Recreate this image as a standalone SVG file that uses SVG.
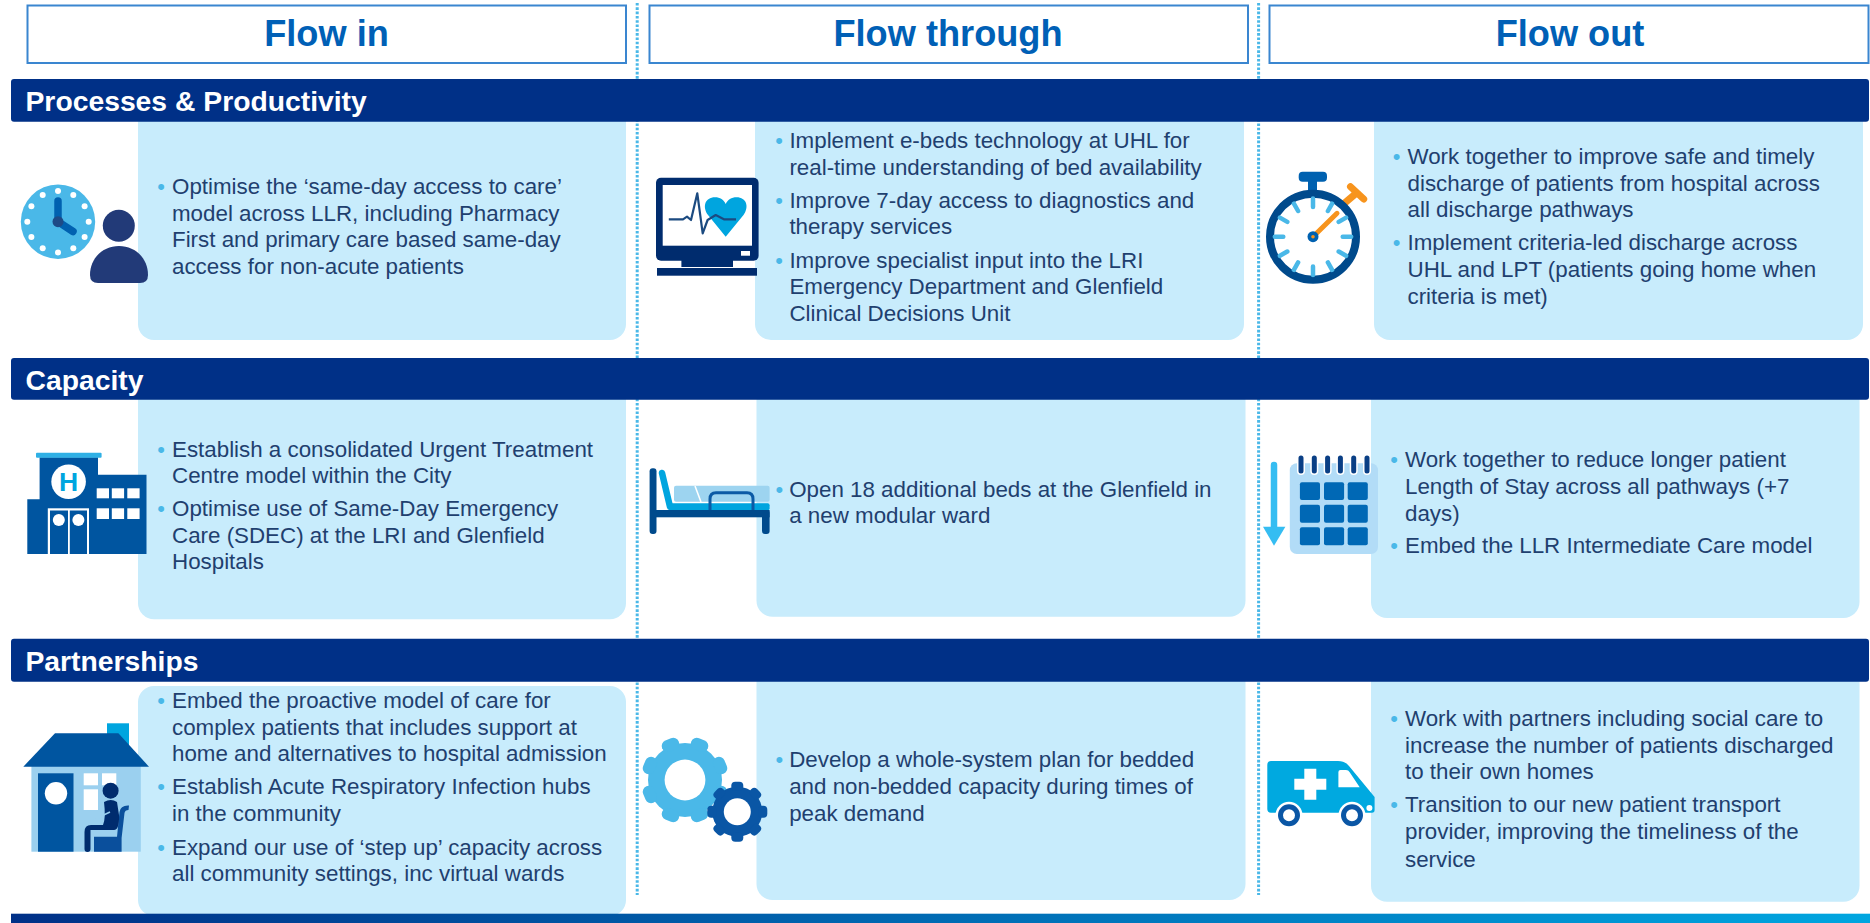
<svg xmlns="http://www.w3.org/2000/svg" width="1870" height="923" viewBox="0 0 1870 923">
<style>
text{font-family:"Liberation Sans",Arial,sans-serif}
.hd{fill:#fff;stroke:#3a86d0;stroke-width:2}
.ht{font-size:36.2px;font-weight:700;fill:#0060b6;text-anchor:middle}
.band{fill:#003087}
.bt{font-size:28.3px;font-weight:700;fill:#fff}
.card{fill:#c8ecfc}
.t{font-size:22.35px;fill:#1f406f}
.b{font-size:22px;fill:#4ab8e8;text-anchor:middle}
.div{stroke:#4ab8e8;stroke-width:3;stroke-dasharray:2.6 1.7;fill:none}
.w{fill:#fff}
</style>
<defs>
<linearGradient id="foot" x1="0" x2="1" y1="0" y2="0"><stop offset="0" stop-color="#003087"/><stop offset="1" stop-color="#00a6e0"/></linearGradient>
<rect id="toothL" x="-9" y="-44" width="18" height="12" rx="6"/>
<rect id="toothS" x="-6" y="-30" width="12" height="9" rx="4"/>
</defs>
<rect width="1870" height="923" fill="#fff"/>
<g id="connectors">
<path class="div" d="M637.2 3V895M1258.6 3V895"/>
</g>
<g id="header-flow-in"><rect class="hd" x="27.5" y="5.5" width="598.5" height="57.5"/><text class="ht" x="326.5" y="45.7">Flow in</text></g>
<g id="header-flow-through"><rect class="hd" x="649.5" y="5.5" width="598.5" height="57.5"/><text class="ht" x="948" y="45.7">Flow through</text></g>
<g id="header-flow-out"><rect class="hd" x="1269.5" y="5.5" width="599" height="57.5"/><text class="ht" x="1570" y="45.7">Flow out</text></g>

<g id="card-1a"><rect class="card" x="138" y="100" width="488" height="240" rx="16"/></g>
<g id="card-1b"><rect class="card" x="755" y="100" width="489" height="240" rx="16"/></g>
<g id="card-1c"><rect class="card" x="1374" y="100" width="489" height="240" rx="16"/></g>
<g id="card-2a"><rect class="card" x="138" y="380" width="488" height="239.300" rx="16"/></g>
<g id="card-2b"><rect class="card" x="756.500" y="380" width="489" height="236.700" rx="16"/></g>
<g id="card-2c"><rect class="card" x="1371" y="380" width="488.500" height="238" rx="16"/></g>
<g id="card-3a"><rect class="card" x="138" y="686" width="488" height="230" rx="16"/></g>
<g id="card-3b"><rect class="card" x="756.500" y="660" width="489" height="240" rx="16"/></g>
<g id="card-3c"><rect class="card" x="1371" y="660" width="488.500" height="241.700" rx="16"/></g>

<g id="band-processes"><rect class="band" x="11" y="79" width="1858" height="42.700" rx="3"/><text class="bt" x="25.500" y="111">Processes &amp; Productivity</text></g>
<g id="band-capacity"><rect class="band" x="11" y="358" width="1858" height="41.700" rx="3"/><text class="bt" x="25.500" y="390">Capacity</text></g>
<g id="band-partnerships"><rect class="band" x="11" y="638.700" width="1858" height="43" rx="3"/><text class="bt" x="25.500" y="670.700">Partnerships</text></g>
<rect id="footer-bar" x="11" y="913.700" width="1859" height="9.300" fill="url(#foot)"/>

<g id="icon-clock-person">
<circle cx="58" cy="221.700" r="37.200" fill="#4ab8e8"/>
<g class="w"><circle cx="58" cy="191" r="3"/><circle cx="73.300" cy="195.100" r="3"/><circle cx="84.600" cy="206.300" r="3"/><circle cx="88.700" cy="221.700" r="3"/><circle cx="84.600" cy="237" r="3"/><circle cx="73.300" cy="248.300" r="3"/><circle cx="58" cy="252.400" r="3"/><circle cx="42.700" cy="248.300" r="3"/><circle cx="31.400" cy="237" r="3"/><circle cx="27.300" cy="221.700" r="3"/><circle cx="31.400" cy="206.300" r="3"/><circle cx="42.700" cy="195.100" r="3"/></g>
<path d="M58 201V221.700L73 231.500" fill="none" stroke="#0061b0" stroke-width="7.500" stroke-linecap="round" stroke-linejoin="round"/>
<circle cx="58" cy="221.700" r="5.500" fill="#1e4a86"/>
<circle cx="118.800" cy="225.700" r="16" fill="#223a78"/>
<path d="M90 275C90 258 103 246 119 246C135 246 148 258 148 275Q148 283 140 283H98Q90 283 90 275Z" fill="#223a78"/>
</g>
<g id="icon-monitor">
<rect x="656" y="177.700" width="102.600" height="83" rx="5" fill="#002c6e"/>
<rect x="662.700" y="185" width="89.300" height="60.700" fill="#fff"/>
<rect x="741" y="251" width="9" height="4.700" fill="#fff"/>
<rect x="681.400" y="260" width="51.600" height="7" fill="#002c6e"/>
<rect x="657" y="268" width="100" height="7.700" fill="#002c6e"/>
<path d="M725.700 236.700L708 215C702 207 705 197.300 715 197.300C720 197.300 724 200 725.700 204C727.500 200 731.500 197.300 736.500 197.300C746.500 197.300 749.500 207 743.500 215Z" fill="#00a5df"/>
<path d="M668.800 219.300H683L687 216.700L691 220L697.300 193.300L702.700 233.300L707.600 220L715.700 215L723.900 219.300H736" fill="none" stroke="#1b4a80" stroke-width="2.200" stroke-linejoin="round"/>
</g>
<g id="icon-stopwatch">
<rect x="1298.700" y="171.700" width="28.300" height="10" rx="4" fill="#0061b0"/>
<rect x="1308" y="180" width="9" height="11" fill="#0061b0"/>
<path d="M1345 202.700L1356.500 193M1350.500 186.700L1363.700 199" stroke="#f7941d" stroke-width="7" stroke-linecap="round" fill="none"/>
<circle cx="1313" cy="236.700" r="43" fill="#fff" stroke="#004a8c" stroke-width="8"/>
<g stroke="#4ab8e8" stroke-width="4.500" stroke-linecap="round"><path d="M1313 198.500V207M1313 266.400V275M1274.800 236.700H1283.300M1342.700 236.700H1351.200M1332.100 203.600L1327.900 211M1298.100 262.400L1293.900 269.800M1346.100 217.600L1338.700 221.900M1287.300 251.500L1279.900 255.800M1346.100 255.800L1338.700 251.500M1287.300 221.900L1279.900 217.600M1332.100 269.800L1327.900 262.400M1298.100 211L1293.900 203.600"/></g>
<path d="M1313 236.700L1337 213.300" stroke="#f7941d" stroke-width="5" stroke-linecap="round"/>
<circle cx="1313" cy="236.700" r="5.500" fill="#0061b0"/>
<circle cx="1313" cy="236.700" r="1.800" fill="#f7941d"/>
</g>
<g id="icon-hospital">
<path d="M39.600 457.300H98V474.700H146.500V554H27.300V499.300H39.600Z" fill="#0055a0"/>
<rect x="36" y="452.700" width="65.600" height="5" rx="1" fill="#2fb0e5"/>
<circle cx="68.600" cy="481.700" r="17.300" fill="#fff"/>
<text x="68.600" y="491.200" font-size="26.500" font-weight="700" fill="#00a5df" text-anchor="middle">H</text>
<g class="w"><rect x="96.700" y="488.300" width="12.300" height="10"/><rect x="111.800" y="488.300" width="12.300" height="10"/><rect x="127.300" y="488.300" width="12.300" height="10"/><rect x="96.700" y="508.300" width="12.300" height="10.700"/><rect x="111.800" y="508.300" width="12.300" height="10.700"/><rect x="127.300" y="508.300" width="12.300" height="10.700"/></g>
<rect x="47.800" y="508.300" width="41.200" height="45.700" fill="#fff"/>
<rect x="50" y="510.500" width="18" height="43.500" fill="#0055a0"/><rect x="69.800" y="510.500" width="17.200" height="43.500" fill="#0055a0"/>
<circle cx="58.800" cy="520" r="6" fill="#fff"/><circle cx="78.400" cy="520" r="6" fill="#fff"/>
</g>
<g id="icon-bed">
<rect x="674" y="485.700" width="95.600" height="16" rx="2" fill="#9dd4f0"/>
<path d="M695 486L701 502" stroke="#fff" stroke-width="1.500"/>
<path d="M662 473L670 506.700" stroke="#00a5df" stroke-width="6.500" stroke-linecap="round"/>
<rect x="669" y="503.300" width="100.600" height="7" rx="2" fill="#00a5df"/>
<path d="M710 510V499Q710 492.700 716 492.700H747Q753 492.700 753 499V510" fill="none" stroke="#0b5aa5" stroke-width="3"/>
<rect x="649.600" y="468.300" width="6.900" height="65.700" rx="3" fill="#004a8c"/>
<rect x="762" y="510" width="7.600" height="24" rx="3" fill="#004a8c"/>
<rect x="650" y="510" width="119.600" height="7.300" fill="#004a8c"/>
</g>
<g id="icon-calendar">
<path d="M1274 465V527" stroke="#35bdf2" stroke-width="6.500" stroke-linecap="round"/>
<path d="M1263 526.700H1285.400L1274 545.700Z" fill="#35bdf2"/>
<rect x="1289.800" y="463.300" width="88.200" height="90.700" rx="7" fill="#b2dcf7"/>
<g fill="#0068b5"><rect x="1299.900" y="482.300" width="20.100" height="17.700" rx="2"/><rect x="1324" y="482.300" width="20.100" height="17.700" rx="2"/><rect x="1347.700" y="482.300" width="20.100" height="17.700" rx="2"/><rect x="1299.900" y="504.700" width="20.100" height="18" rx="2"/><rect x="1324" y="504.700" width="20.100" height="18" rx="2"/><rect x="1347.700" y="504.700" width="20.100" height="18" rx="2"/><rect x="1299.900" y="527.300" width="20.100" height="18" rx="2"/><rect x="1324" y="527.300" width="20.100" height="18" rx="2"/><rect x="1347.700" y="527.300" width="20.100" height="18" rx="2"/></g>
<path d="M1301 458V471M1314.300 458V471M1327.600 458V471M1340.400 458V471M1353.700 458V471M1367 458V471" stroke="#fff" stroke-width="8" stroke-linecap="round"/>
<path d="M1301 458V471M1314.300 458V471M1327.600 458V471M1340.400 458V471M1353.700 458V471M1367 458V471" stroke="#0a3f85" stroke-width="5" stroke-linecap="round"/>
</g>
<g id="icon-house">
<rect x="107" y="723.300" width="22" height="32" fill="#00a5df"/>
<rect x="31.400" y="766" width="109.400" height="85.700" fill="#9bd0ef"/>
<path d="M23.300 766.700L55 733.300H118.400L149 766.700Z" fill="#0055a0"/>
<rect x="38" y="773.300" width="35.500" height="78.400" fill="#0055a0"/>
<circle cx="56" cy="793.300" r="11.200" fill="#fff"/>
<g class="w"><rect x="83.700" y="773.300" width="14.300" height="12"/><rect x="102" y="773.300" width="14.300" height="12"/><rect x="83.700" y="789.300" width="14.300" height="20.700"/></g>
<path d="M94 851.700V836.700H117L119.500 812Q120.500 805 129 805.500L128.500 810Q125 810 124.500 813L121.600 838V851.700Z" fill="#0a4f9c"/>
<circle cx="110.600" cy="790.700" r="8" fill="#002c6e"/>
<path d="M104 802Q111 798 117 802L119 815Q119.500 830 114 830H90.500V849Q90.500 852 87.500 852T84.500 849V832Q84.500 825 91 825H103Q106 818 104 802Z" fill="#002c6e"/>
<path d="M93 820L110 812" stroke="#9bd0ef" stroke-width="1.500" fill="none"/>
</g>
<g id="icon-gears">
<g fill="#4ab8e8"><circle cx="685" cy="780" r="37"/>
<use href="#toothL" transform="translate(685 780) rotate(22.500)"/><use href="#toothL" transform="translate(685 780) rotate(67.500)"/><use href="#toothL" transform="translate(685 780) rotate(112.500)"/><use href="#toothL" transform="translate(685 780) rotate(157.500)"/><use href="#toothL" transform="translate(685 780) rotate(202.500)"/><use href="#toothL" transform="translate(685 780) rotate(247.500)"/><use href="#toothL" transform="translate(685 780) rotate(292.500)"/><use href="#toothL" transform="translate(685 780) rotate(337.500)"/></g>
<circle cx="685" cy="780" r="20.400" fill="#fff"/>
<g fill="#0a56a5"><circle cx="737.300" cy="811.700" r="25"/>
<use href="#toothS" transform="translate(737.300 811.700)"/><use href="#toothS" transform="translate(737.300 811.700) rotate(45)"/><use href="#toothS" transform="translate(737.300 811.700) rotate(90)"/><use href="#toothS" transform="translate(737.300 811.700) rotate(135)"/><use href="#toothS" transform="translate(737.300 811.700) rotate(180)"/><use href="#toothS" transform="translate(737.300 811.700) rotate(225)"/><use href="#toothS" transform="translate(737.300 811.700) rotate(270)"/><use href="#toothS" transform="translate(737.300 811.700) rotate(315)"/></g>
<circle cx="737.300" cy="811.700" r="13.500" fill="#fff"/>
</g>
<g id="icon-ambulance">
<path d="M1271 761H1338Q1345 761 1349 766L1374.600 797V810Q1374.600 812.700 1372 812.700H1271Q1267.300 812.700 1267.300 809V765Q1267.300 761 1271 761Z" fill="#00a9e0"/>
<path d="M1338.400 772Q1338.400 770 1340.500 770H1346Q1348.500 770 1349.500 772L1359.700 787.300H1338.400Z" fill="#fff"/>
<path d="M1304.300 768.800H1316.300V778.800H1326.300V789.800H1316.300V799.800H1304.300V789.800H1294.300V778.800H1304.300Z" fill="#fff"/>
<circle cx="1369.400" cy="808" r="3" fill="#fff"/>
<circle cx="1289" cy="815.300" r="13.500" fill="#fff"/><circle cx="1352" cy="815.300" r="13.500" fill="#fff"/>
<circle cx="1289" cy="815.300" r="8.500" fill="#fff" stroke="#0a56a5" stroke-width="5"/><circle cx="1352" cy="815.300" r="8.500" fill="#fff" stroke="#0a56a5" stroke-width="5"/>
</g>

<g id="text-1a">
<text class="b" x="161" y="194">•</text>
<text class="t" x="172" y="194">Optimise the ‘same-day access to care’</text>
<text class="t" x="172" y="220.700">model across LLR, including Pharmacy</text>
<text class="t" x="172" y="247.300">First and primary care based same-day</text>
<text class="t" x="172" y="274">access for non-acute patients</text>
</g>
<g id="text-1b">
<text class="b" x="779" y="148.300">•</text>
<text class="t" x="789.400" y="148.300">Implement e-beds technology at UHL for</text>
<text class="t" x="789.400" y="175">real-time understanding of bed availability</text>
<text class="b" x="779" y="207.700">•</text>
<text class="t" x="789.400" y="207.700">Improve 7-day access to diagnostics and</text>
<text class="t" x="789.400" y="234.300">therapy services</text>
<text class="b" x="779" y="267.700">•</text>
<text class="t" x="789.400" y="267.700">Improve specialist input into the LRI</text>
<text class="t" x="789.400" y="294.300">Emergency Department and Glenfield</text>
<text class="t" x="789.400" y="321">Clinical Decisions Unit</text>
</g>
<g id="text-1c">
<text class="b" x="1396.700" y="164">•</text>
<text class="t" x="1407.500" y="164">Work together to improve safe and timely</text>
<text class="t" x="1407.500" y="190.700">discharge of patients from hospital across</text>
<text class="t" x="1407.500" y="217.300">all discharge pathways</text>
<text class="b" x="1396.700" y="250">•</text>
<text class="t" x="1407.500" y="250">Implement criteria-led discharge across</text>
<text class="t" x="1407.500" y="276.700">UHL and LPT (patients going home when</text>
<text class="t" x="1407.500" y="304">criteria is met)</text>
</g>
<g id="text-2a">
<text class="b" x="161" y="456.700">•</text>
<text class="t" x="172" y="456.700">Establish a consolidated Urgent Treatment</text>
<text class="t" x="172" y="483.300">Centre model within the City</text>
<text class="b" x="161" y="516">•</text>
<text class="t" x="172" y="516">Optimise use of Same-Day Emergency</text>
<text class="t" x="172" y="542.700">Care (SDEC) at the LRI and Glenfield</text>
<text class="t" x="172" y="569.300">Hospitals</text>
</g>
<g id="text-2b">
<text class="b" x="779.400" y="496.700">•</text>
<text class="t" x="789.200" y="496.700">Open 18 additional beds at the Glenfield in</text>
<text class="t" x="789.200" y="523.300">a new modular ward</text>
</g>
<g id="text-2c">
<text class="b" x="1394" y="467.300">•</text>
<text class="t" x="1405" y="467.300">Work together to reduce longer patient</text>
<text class="t" x="1405" y="494">Length of Stay across all pathways (+7</text>
<text class="t" x="1405" y="520.700">days)</text>
<text class="b" x="1394" y="552.700">•</text>
<text class="t" x="1405" y="552.700">Embed the LLR Intermediate Care model</text>
</g>
<g id="text-3a">
<text class="b" x="161" y="708">•</text>
<text class="t" x="172" y="708">Embed the proactive model of care for</text>
<text class="t" x="172" y="734.700">complex patients that includes support at</text>
<text class="t" x="172" y="761.300">home and alternatives to hospital admission</text>
<text class="b" x="161" y="794">•</text>
<text class="t" x="172" y="794">Establish Acute Respiratory Infection hubs</text>
<text class="t" x="172" y="820.700">in the community</text>
<text class="b" x="161" y="854.700">•</text>
<text class="t" x="172" y="854.700">Expand our use of ‘step up’ capacity across</text>
<text class="t" x="172" y="881.300">all community settings, inc virtual wards</text>
</g>
<g id="text-3b">
<text class="b" x="779.400" y="767.300">•</text>
<text class="t" x="789.200" y="767.300">Develop a whole-system plan for bedded</text>
<text class="t" x="789.200" y="794">and non-bedded capacity during times of</text>
<text class="t" x="789.200" y="820.700">peak demand</text>
</g>
<g id="text-3c">
<text class="b" x="1394" y="726">•</text>
<text class="t" x="1405" y="726">Work with partners including social care to</text>
<text class="t" x="1405" y="752.700">increase the number of patients discharged</text>
<text class="t" x="1405" y="779.300">to their own homes</text>
<text class="b" x="1394" y="812">•</text>
<text class="t" x="1405" y="812">Transition to our new patient transport</text>
<text class="t" x="1405" y="838.700">provider, improving the timeliness of the</text>
<text class="t" x="1405" y="866.700">service</text>
</g>
</svg>
